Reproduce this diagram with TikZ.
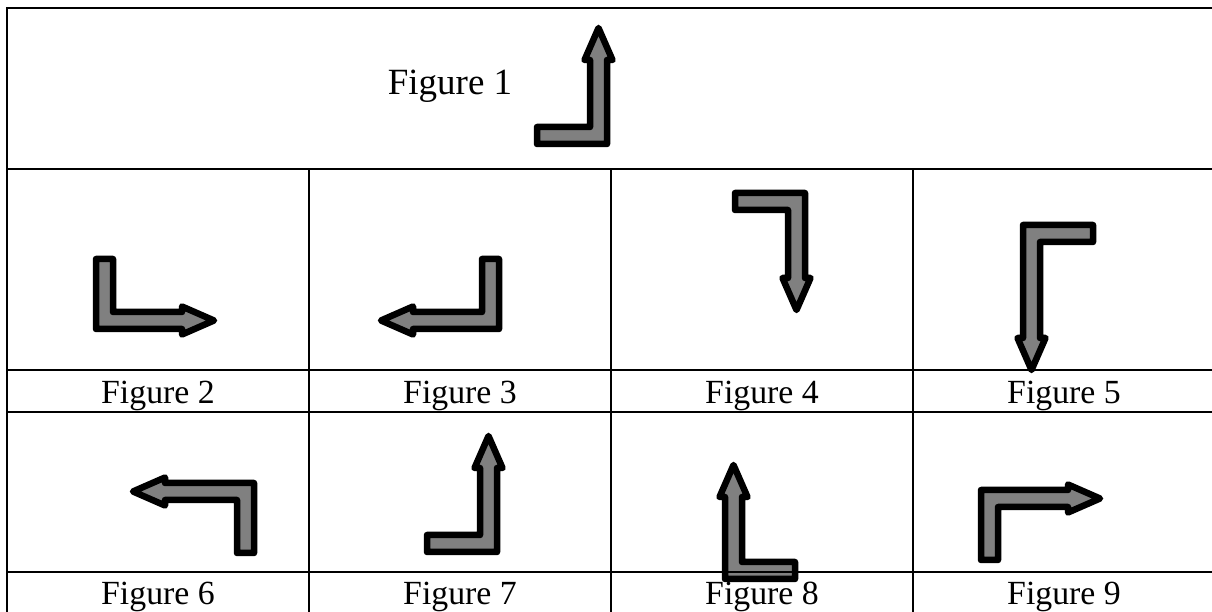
\documentclass[tikz,border=0pt]{standalone}
\usepackage{fontspec}
\setmainfont{Liberation Serif}
\tikzset{
  grid line/.style={line width=2pt},
  fig label/.style={font=\fontsize{33.8}{40}\selectfont, anchor=base, inner sep=0pt},
  bend arrow/.style={draw=black, fill=gray, line width=6.5pt, line join=round},
  pics/lbend/.style={code={
    \draw[bend arrow] (0,0) -- (0,#1-32) -- (5.5,#1-32) -- (-8.5,#1) -- (-22.5,#1-32)
      -- (-17,#1-32) -- (-17,17) -- (-70,17) -- (-70,0) -- cycle;
  }}
}
\begin{document}
\begin{tikzpicture}[x=1pt,y=1pt]
  \path[use as bounding box, clip] (0,0) rectangle (1212,612);
  % arrows
  \pic[cm={1,0,0,1,(607,468)}] {lbend=116};
  \pic[cm={0,-1,1,0,(96,283)}] {lbend=118};
  \pic[cm={0,-1,-1,0,(499,283)}] {lbend=118};
  \pic[cm={1,0,0,-1,(805,419)}] {lbend=117};
  \pic[cm={-1,0,0,-1,(1023,387)}] {lbend=145};
  \pic[cm={0,1,-1,0,(254,129)}] {lbend=121};
  \pic[cm={1,0,0,1,(497,60)}] {lbend=116};
  \pic[cm={-1,0,0,1,(725,33)}] {lbend=114};
  \pic[cm={0,1,1,0,(981,122)}] {lbend=119};
  % table
  \draw[grid line] (7,-10) -- (7,603.5) -- (1215,603.5) -- (1215,-10);
  \draw[grid line] (7,443) -- (1215,443);
  \draw[grid line] (7,242) -- (1215,242);
  \draw[grid line] (7,200) -- (1215,200);
  \draw[grid line] (7,39.5) -- (1215,39.5);
  \foreach \x in {309,611,913}
    \draw[grid line] (\x,443) -- (\x,-10);
  % labels
  \node[fig label, font=\fontsize{37}{44}\selectfont] (fig1) at (450,517) {Figure 1};
  \node[fig label] (fig2) at (158,208) {Figure 2};
  \node[fig label] (fig3) at (460,208) {Figure 3};
  \node[fig label] (fig4) at (762,208) {Figure 4};
  \node[fig label] (fig5) at (1064,208) {Figure 5};
  \node[fig label] (fig6) at (158,7) {Figure 6};
  \node[fig label] (fig7) at (460,7) {Figure 7};
  \node[fig label] (fig8) at (762,7) {Figure 8};
  \node[fig label] (fig9) at (1064,7) {Figure 9};
\end{tikzpicture}
\end{document}
